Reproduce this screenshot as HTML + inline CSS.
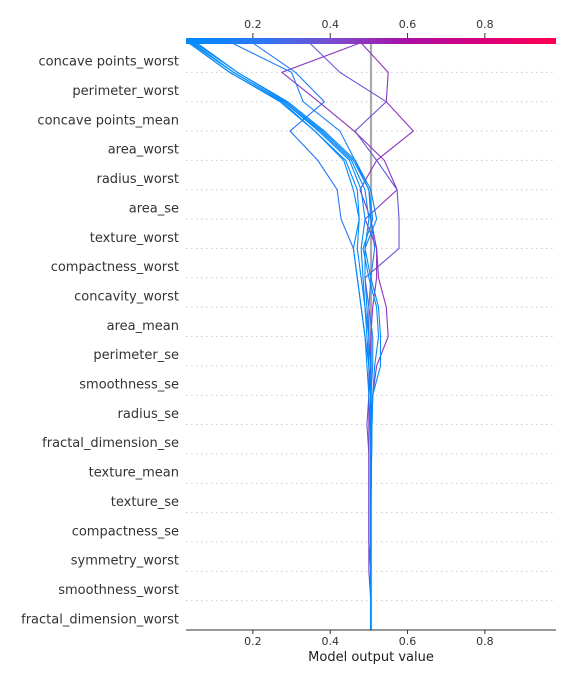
<!DOCTYPE html>
<html><head><meta charset="utf-8"><style>
body{margin:0;background:#fff;width:576px;height:684px;overflow:hidden}
svg{display:block;font-family:"DejaVu Sans","Liberation Sans",sans-serif}
</style></head><body>
<svg id="chart" width="576" height="684">
<defs><linearGradient id="cg" x1="0" x2="1" y1="0" y2="0">
<stop offset="0" stop-color="#008bfb"/><stop offset="0.2" stop-color="#2a78f4"/><stop offset="0.42" stop-color="#8346cb"/><stop offset="0.6" stop-color="#a80ea4"/><stop offset="0.8" stop-color="#d8007b"/><stop offset="1" stop-color="#ff0052"/></linearGradient></defs>
<g id="grid"></g>
<g id="labels"></g>
<line x1="371" x2="371" y1="43" y2="630" stroke="#aaa" stroke-width="2.2"/>
<g id="lines"></g>
<rect x="186" y="38" width="370" height="6" fill="url(#cg)"/>
<g id="axes"></g>
<text x="371" y="661" text-anchor="middle" font-size="13" fill="#222">Model output value</text>
</svg>
<script>
const features=["concave points_worst","perimeter_worst","concave points_mean","area_worst","radius_worst","area_se","texture_worst","compactness_worst","concavity_worst","area_mean","perimeter_se","smoothness_se","radius_se","fractal_dimension_se","texture_mean","texture_se","compactness_se","symmetry_worst","smoothness_worst","fractal_dimension_worst"];
const ticks=[0.2,0.4,0.6,0.8];
const tickLabels=["0.2","0.4","0.6","0.8"];
const baseValue=0.505;
const s1=[0.035,0.14,0.27,0.36,0.44,0.47,0.475,0.47,0.48,0.49,0.495,0.50,0.505,0.505,0.505,0.505,0.505,0.505,0.505,0.505,0.505];
const s2=[0.04,0.15,0.28,0.37,0.45,0.48,0.49,0.48,0.485,0.49,0.50,0.50,0.505,0.505,0.505,0.505,0.505,0.505,0.505,0.505,0.505];
const s3=[0.045,0.15,0.28,0.375,0.455,0.49,0.50,0.49,0.49,0.495,0.50,0.505,0.505,0.505,0.505,0.505,0.505,0.505,0.505,0.505,0.505];
const s4=[0.05,0.16,0.285,0.38,0.46,0.50,0.51,0.485,0.50,0.52,0.525,0.515,0.51,0.508,0.507,0.506,0.505,0.505,0.505,0.505,0.505];
const s5=[0.055,0.16,0.29,0.385,0.465,0.505,0.52,0.49,0.505,0.525,0.53,0.53,0.51,0.508,0.507,0.506,0.505,0.505,0.505,0.505,0.505];
const s6=[0.035,0.14,0.275,0.36,0.435,0.46,0.475,0.46,0.47,0.48,0.49,0.495,0.50,0.503,0.505,0.505,0.505,0.505,0.505,0.505,0.505];
const s7=[0.146,0.30,0.33,0.425,0.464,0.50,0.505,0.515,0.505,0.50,0.51,0.51,0.505,0.505,0.505,0.505,0.505,0.505,0.505,0.505,0.505];
const s8=[0.2,0.31,0.385,0.296,0.368,0.418,0.428,0.46,0.47,0.48,0.49,0.50,0.505,0.505,0.505,0.505,0.505,0.505,0.505,0.505,0.505];
const s9=[0.477,0.275,0.37,0.462,0.54,0.573,0.49,0.52,0.52,0.51,0.505,0.505,0.50,0.50,0.50,0.50,0.50,0.50,0.50,0.505,0.505];
const s10=[0.347,0.425,0.545,0.464,0.52,0.573,0.578,0.578,0.49,0.50,0.50,0.50,0.50,0.495,0.50,0.50,0.50,0.50,0.505,0.505,0.505];
const s11=[0.48,0.55,0.545,0.615,0.52,0.477,0.505,0.52,0.525,0.545,0.55,0.52,0.51,0.505,0.505,0.505,0.505,0.505,0.505,0.505,0.505];
const series=[s10,s9,s11,s8,s7,s1,s2,s3,s4,s5,s6];
const NS="http://www.w3.org/2000/svg";
const X0=186,X1=556,VMIN=0.027,VMAX=0.984,YT=43,YB=630;
function xs(v){return X0+(v-VMIN)/(VMAX-VMIN)*(X1-X0);}
function ys(k){return YT+k*(YB-YT)/20;}
function mk(t,a,p){const e=document.createElementNS(NS,t);for(const k in a)e.setAttribute(k,a[k]);if(p)p.appendChild(e);return e;}
const stops=[[0,[0,139,251]],[0.2,[42,120,244]],[0.42,[131,70,203]],[0.6,[168,14,164]],[0.8,[216,0,123]],[1,[255,0,82]]];
function col(v){const t=Math.max(0,Math.min(1,(v-VMIN)/(VMAX-VMIN)));for(let i=1;i<stops.length;i++){if(t<=stops[i][0]){const a=stops[i-1],b=stops[i],f=(t-a[0])/(b[0]-a[0]);return "rgb("+a[1].map((c,j)=>Math.round(c+(b[1][j]-c)*f)).join(",")+")";}}return "rgb(255,0,82)";}
const grid=document.getElementById('grid'),lab=document.getElementById('labels'),lines=document.getElementById('lines'),axes=document.getElementById('axes');
for(let k=1;k<20;k++){const g=mk('line',{x1:X0,x2:X1,y1:ys(k),y2:ys(k),stroke:"#ccc","stroke-dasharray":"1.5,3.5","stroke-width":1},grid);

}
features.forEach((f,i)=>{const t=mk('text',{x:179,y:(ys(i)+ys(i+1))/2+8,"text-anchor":"end","font-size":13,fill:"#333"},lab);t.textContent=f;

});
series.forEach((s,i)=>{const p=mk('polyline',{points:s.map((v,k)=>xs(v)+","+ys(k)).join(" "),fill:"none",stroke:col(s[0]),"stroke-width":1.1},lines);

});
const ax=mk('line',{x1:X0,x2:X1,y1:YB,y2:YB,stroke:"#333","stroke-width":1},axes);


ticks.forEach((v,i)=>{const x=xs(v);
const t1=mk('line',{x1:x,x2:x,y1:YB,y2:YB+4,stroke:"#333"},axes);


const l1=mk('text',{x:x,y:YB+15,"text-anchor":"middle","font-size":11,fill:"#333"},axes);l1.textContent=tickLabels[i];


const t2=mk('line',{x1:x,x2:x,y1:33,y2:38,stroke:"#333"},axes);


const l2=mk('text',{x:x,y:28,"text-anchor":"middle","font-size":11,fill:"#333"},axes);l2.textContent=tickLabels[i];

});
</script>
</body></html>
